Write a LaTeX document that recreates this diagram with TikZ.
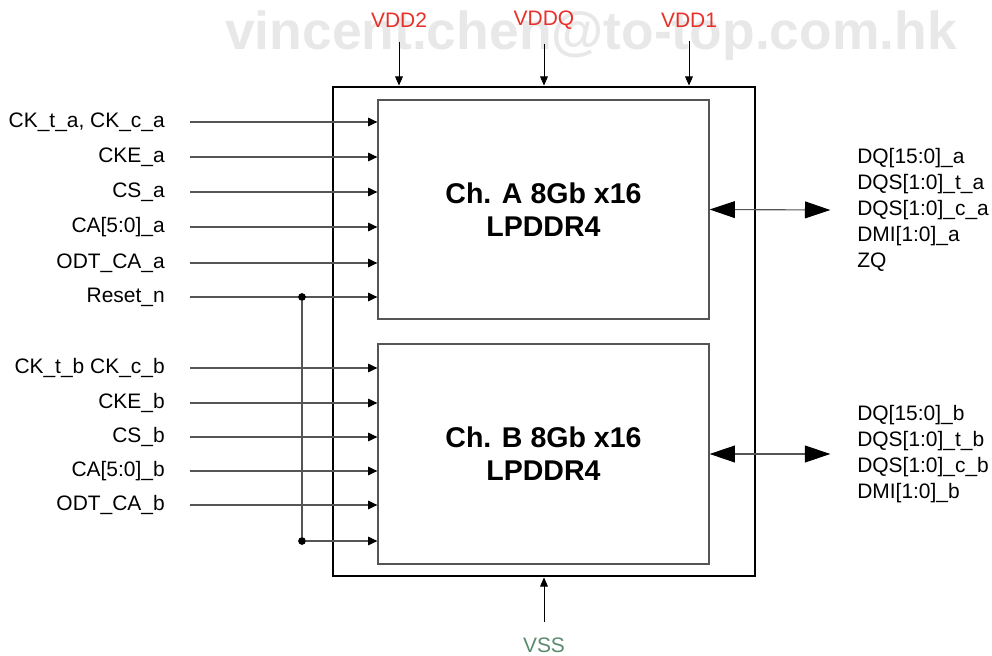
\documentclass[tikz,border=0pt]{standalone}
\usepackage{fontspec}
\setmainfont{Liberation Sans}
\usetikzlibrary{positioning,arrows.meta}
\definecolor{pinred}{HTML}{E8302A}
\definecolor{gndgreen}{HTML}{5B8C6D}
\definecolor{wire}{HTML}{555555}
\definecolor{wmark}{HTML}{E8E8E8}

\begin{document}
\begin{tikzpicture}[
  x=0.25mm, y=-0.25mm,
  chan/.style={draw=wire, line width=0.9pt, minimum width=82.75mm, minimum height=54.75mm,
               font=\fontsize{20.3}{23.5}\selectfont\bfseries, align=center, inner sep=0},
  lbl/.style={font=\fontsize{14.9}{17}\selectfont, inner sep=0},
  sig/.style={-{Triangle[length=6.5pt,width=6pt,color=black]}, draw=wire, line width=0.8pt},
  bus/.style={{Triangle[length=18pt,width=12pt,color=black]}-{Triangle[length=18pt,width=12pt,color=black]},
              draw=wire, line width=0.8pt},
  pwr/.style={-{Triangle[length=6.5pt,width=5.5pt]}, line width=0.6pt},
  dot/.style={circle, fill=black, inner sep=0, minimum size=5.5pt}
]
  \useasboundingbox (0,0) rectangle (992,656);

  % Watermark
  \node[font=\fontsize{38}{40}\selectfont\bfseries, text=wmark, inner sep=0] (wm)
    at (591,36) {vincent.chen@to-top.com.hk};

  % Package and channels
  \node[draw, line width=2pt, minimum width=105.5mm, minimum height=122.25mm, inner sep=0]
    (chip) at (544,331.5) {};
  \node[chan] (chA) at (543.5,209.5) {Ch. A 8Gb x16\\LPDDR4};
  \node[chan, minimum height=55mm] (chB) at (543.5,454) {Ch. B 8Gb x16\\LPDDR4};

  % Supplies
  \node[lbl, text=pinred] (vdd2) at (399,20) {VDD2};
  \node[lbl, text=pinred] (vddq) at (544,20) {VDDQ};
  \node[lbl, text=pinred] (vdd1) at (689,20) {VDD1};
  \node[lbl, text=gndgreen] (vss) at (544,645) {VSS};
  \draw[pwr] (vdd2.south) ++(0,14) -- (vdd2 |- chip.north);
  \draw[pwr] (vddq.south) ++(0,14) -- (vddq |- chip.north);
  \draw[pwr] (vdd1.south) ++(0,14) -- (vdd1 |- chip.north);
  \draw[pwr] (vss.north) ++(0,-15) -- (vss |- chip.south);

  % Channel A inputs
  \node[lbl, anchor=east] (ckA)  at (165,122) {CK\_t\_a, CK\_c\_a};
  \node[lbl, anchor=east] (ckeA) at (165,157) {CKE\_a};
  \node[lbl, anchor=east] (csA)  at (165,192) {CS\_a};
  \node[lbl, anchor=east] (caA)  at (165,227) {CA[5:0]\_a};
  \node[lbl, anchor=east] (odtA) at (165,263) {ODT\_CA\_a};
  \node[lbl, anchor=east] (rst)  at (165,297) {Reset\_n};
  \foreach \n in {ckA,ckeA,csA,caA,odtA,rst}
    \draw[sig] (\n.east) ++(25,0) -- (\n -| chA.west);

  % Channel B inputs
  \node[lbl, anchor=east] (ckB)  at (165,368) {CK\_t\_b CK\_c\_b};
  \node[lbl, anchor=east] (ckeB) at (165,403) {CKE\_b};
  \node[lbl, anchor=east] (csB)  at (165,437) {CS\_b};
  \node[lbl, anchor=east] (caB)  at (165,471) {CA[5:0]\_b};
  \node[lbl, anchor=east] (odtB) at (165,505) {ODT\_CA\_b};
  \foreach \n in {ckB,ckeB,csB,caB,odtB}
    \draw[sig] (\n.east) ++(25,0) -- (\n -| chB.west);

  % Reset shared by both channels
  \node[dot] (rstA) at (302,297) {};
  \node[dot] (rstB) at (302,541) {};
  \draw[draw=wire, line width=0.8pt] (rstA) -- (rstB);
  \draw[sig] (rstB) -- (rstB -| chB.west);

  % Data buses
  \node[lbl, anchor=west, align=left, font=\fontsize{14.9}{18.5}\selectfont] (dqA) at (857,210)
    {DQ[15:0]\_a\\DQS[1:0]\_t\_a\\DQS[1:0]\_c\_a\\DMI[1:0]\_a\\ZQ};
  \node[lbl, anchor=west, align=left, font=\fontsize{14.9}{18.5}\selectfont] (dqB) at (857,454)
    {DQ[15:0]\_b\\DQS[1:0]\_t\_b\\DQS[1:0]\_c\_b\\DMI[1:0]\_b};
  \draw[bus] (chA.east) -- ([xshift=-19pt]dqA.west);
  \draw[bus] (chB.east) -- ([xshift=-19pt]dqB.west);
\end{tikzpicture}
\end{document}
